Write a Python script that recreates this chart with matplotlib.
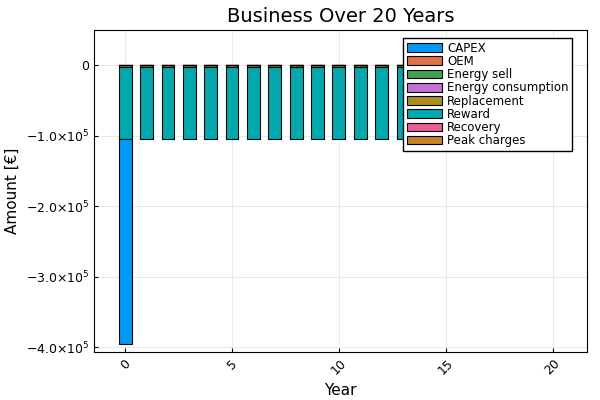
import numpy as np
import matplotlib
matplotlib.use('Agg')
import matplotlib.pyplot as plt

years = np.arange(0, 21)
labels = ['CAPEX', 'OEM', 'Energy sell', 'Energy consumption',
          'Replacement', 'Reward', 'Recovery', 'Peak charges']
colors = ['#009af9', '#e26f46', '#3da44d', '#c371d2',
          '#ac8e18', '#00a9ad', '#ed5e93', '#c68225']

capex = np.array([-290000] + [0] * 20)
oem = np.array([-500] * 20 + [0])
energy_sell = np.zeros(21)
energy_cons = np.zeros(21)
replacement = np.zeros(21)
reward = np.array([-102000] * 20 + [0])
recovery = np.array([0] * 20 + [36000])
peak = np.array([-2500] * 20 + [0])

# stacking order from zero outward
series = {'Peak charges': peak, 'OEM': oem, 'Energy sell': energy_sell,
          'Energy consumption': energy_cons, 'Replacement': replacement,
          'Reward': reward, 'Recovery': recovery, 'CAPEX': capex}

fig, ax = plt.subplots(figsize=(6, 4), dpi=100)
neg = np.zeros(21)
pos = np.zeros(21)
for name, vals in series.items():
    c = colors[labels.index(name)]
    base = np.where(vals < 0, neg, pos)
    ax.bar(years, vals, bottom=base, width=0.6, color=c,
           edgecolor='black', linewidth=0.8)
    neg = neg + np.minimum(vals, 0)
    pos = pos + np.maximum(vals, 0)

handles = [plt.Rectangle((0, 0), 1, 1, facecolor=c, edgecolor='black', linewidth=0.8)
           for c in colors]
ax.legend(handles, labels, loc='upper right', bbox_to_anchor=(0.97, 0.975),
          fontsize=8.5, fancybox=False, edgecolor='black', framealpha=1,
          handlelength=3.0, handleheight=0.75, labelspacing=0.02,
          borderpad=0.3, handletextpad=0.4, borderaxespad=0)

ax.set_xlim(-1.45, 21.6)
ax.set_ylim(-407000, 50000)
ax.set_xticks([0, 5, 10, 15, 20])
ax.set_xticklabels(['0', '5', '10', '15', '20'], rotation=45)
ax.set_yticks([0, -1e5, -2e5, -3e5, -4e5])
ax.set_yticklabels(['0', r'$-1.0{\times}10^5$', r'$-2.0{\times}10^5$',
                    r'$-3.0{\times}10^5$', r'$-4.0{\times}10^5$'])
ax.tick_params(labelsize=9, direction='in', length=3)
ax.grid(True, color='#e5e5e5', linewidth=0.6)
ax.set_axisbelow(True)
ax.set_xlabel('Year', fontsize=11)
ax.set_ylabel('Amount [€]', fontsize=11)
ax.set_title('Business Over 20 Years', fontsize=14)

plt.subplots_adjust(left=0.157, right=0.978, top=0.925, bottom=0.12)
fig.savefig('out.png', dpi=100)
